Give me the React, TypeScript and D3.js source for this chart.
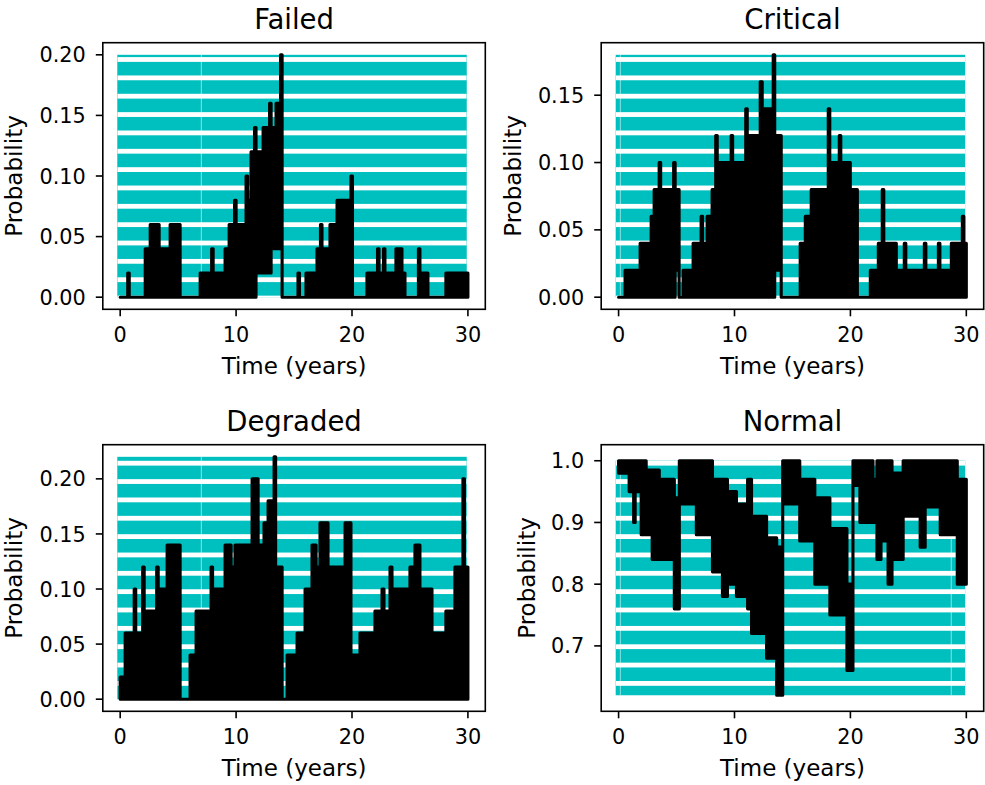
import React from 'react';
import * as d3 from 'd3';

const FONT = '"DejaVu Sans", "Liberation Sans", sans-serif';
const CYAN = '#00bfbf';

// shared x axis
const xLimits = [-1.5, 31.5];
const xTicks = [0, 10, 20, 30];
const bandSpan = [-0.25, 29.9];

// ---- Failed: step breakpoints (years) and envelope per segment ----
const failedT = [0, 0.65, 0.78, 2.16, 2.59, 3.36, 4.31, 5.17, 6.9, 7.89, 8.02, 9.05, 9.4, 9.87, 10.0, 10.86, 10.99, 11.29, 11.59, 11.72, 12.33, 12.89, 13.02, 13.45, 13.84, 13.97, 15.34, 15.47, 16.03, 16.98, 17.28, 17.41, 18.1, 18.71, 19.91, 20.04, 21.29, 22.2, 22.33, 22.72, 22.84, 23.79, 24.31, 24.57, 25.73, 25.86, 26.55, 28.1, 30.0];
const failedHi = [0, 0.02, 0, 0.04, 0.06, 0.04, 0.06, 0, 0.02, 0.04, 0.02, 0.04, 0.06, 0.08, 0.06, 0.1, 0.08, 0.12, 0.14, 0.12, 0.14, 0.16, 0.14, 0.16, 0.2, 0, 0.02, 0, 0.02, 0.04, 0.06, 0.04, 0.06, 0.08, 0.1, 0, 0.02, 0.04, 0.02, 0.04, 0.02, 0.04, 0.02, 0, 0.04, 0.02, 0, 0.02];
const failedLo = [0, 0, 0, 0, 0, 0, 0, 0, 0, 0, 0, 0, 0, 0, 0, 0, 0, 0, 0, 0.02, 0.02, 0.02, 0.04, 0.04, 0.04, 0, 0, 0, 0, 0, 0, 0, 0, 0, 0, 0, 0, 0, 0, 0, 0, 0, 0, 0, 0, 0, 0, 0];
const failedYlim = [-0.01, 0.21];
const failedYTicks = [0, 0.05, 0.1, 0.15, 0.2];
const failedBand = [0, 0.2];
const failedSeams = [7.0];

// ---- Critical ----
const criticalT = [0, 0.56, 1.86, 2.81, 3.07, 3.5, 3.63, 4.75, 4.88, 5.22, 5.57, 6.43, 7.12, 7.25, 7.64, 8.07, 8.38, 8.51, 9.71, 9.84, 10.97, 11.1, 12.22, 12.39, 13.34, 13.47, 14.03, 15.67, 16.11, 16.62, 18.09, 18.22, 19.04, 19.17, 19.99, 20.6, 21.72, 22.41, 22.75, 22.88, 23.96, 24.65, 24.78, 26.38, 26.51, 27.59, 27.72, 28.71, 29.66, 29.79, 30.0];
const criticalHi = [0, 0.02, 0.04, 0.06, 0.08, 0.1, 0.08, 0.1, 0.08, 0, 0.02, 0.04, 0.06, 0.04, 0.06, 0.08, 0.12, 0.1, 0.12, 0.1, 0.14, 0.12, 0.16, 0.14, 0.18, 0.12, 0, 0.04, 0.06, 0.08, 0.14, 0.1, 0.12, 0.1, 0.08, 0, 0.02, 0.04, 0.08, 0.04, 0.02, 0.04, 0.02, 0.04, 0.02, 0.04, 0.02, 0.04, 0.06, 0.04];
const criticalLo = [0, 0, 0, 0, 0, 0, 0, 0, 0.02, 0, 0, 0, 0, 0, 0, 0, 0, 0, 0, 0, 0, 0, 0, 0, 0, 0.02, 0, 0, 0, 0, 0, 0, 0, 0, 0, 0, 0, 0, 0, 0, 0, 0, 0, 0, 0, 0, 0, 0, 0, 0];
const criticalYlim = [-0.009, 0.189];
const criticalYTicks = [0, 0.05, 0.1, 0.15];
const criticalBand = [0, 0.18];
const criticalSeams = [0.15];

// ---- Degraded ----
const degradedT = [0, 0.43, 1.21, 1.34, 1.94, 2.07, 3.15, 3.28, 4.05, 5.17, 6.03, 6.55, 7.84, 7.97, 9.05, 9.57, 9.91, 11.38, 11.9, 12.41, 12.76, 13.28, 13.41, 13.97, 14.4, 15.26, 15.95, 16.55, 16.9, 17.24, 17.93, 19.4, 19.91, 20.69, 21.98, 22.59, 22.76, 23.28, 23.45, 25.0, 25.43, 25.86, 26.9, 28.1, 28.88, 29.57, 29.7, 30.0];
const degradedHi = [0.02, 0.06, 0.1, 0.06, 0.12, 0.08, 0.12, 0.1, 0.14, 0, 0.04, 0.08, 0.12, 0.1, 0.14, 0.12, 0.14, 0.2, 0.14, 0.16, 0.18, 0.22, 0.12, 0, 0.04, 0.06, 0.1, 0.14, 0.12, 0.16, 0.12, 0.16, 0.04, 0.06, 0.08, 0.1, 0.08, 0.12, 0.1, 0.12, 0.14, 0.1, 0.06, 0.08, 0.12, 0.2, 0.12];
const degradedLo = [0, 0, 0, 0, 0, 0, 0, 0, 0, 0, 0, 0, 0, 0, 0, 0, 0, 0, 0, 0, 0, 0, 0, 0, 0, 0, 0, 0, 0, 0, 0, 0, 0, 0, 0, 0, 0, 0, 0, 0, 0, 0, 0, 0, 0, 0, 0];
const degradedYlim = [-0.011, 0.231];
const degradedYTicks = [0, 0.05, 0.1, 0.15, 0.2];
const degradedBand = [0, 0.22];
const degradedSeams = [7.0];

// ---- Normal ----
const normalT = [0, 0.91, 1.3, 1.43, 1.95, 2.38, 2.9, 3.51, 4.81, 5.24, 6.71, 8.1, 8.96, 9.39, 10.17, 11.13, 11.47, 12.77, 13.64, 14.16, 15.63, 16.93, 18.23, 19.7, 20.22, 20.82, 21.95, 22.29, 22.64, 23.25, 23.59, 24.55, 26.02, 26.45, 27.75, 29.22, 30.0];
const normalHi = [1.0, 1.0, 1.0, 1.0, 1.0, 0.985, 0.985, 0.97, 0.94, 1.0, 1.0, 0.97, 0.97, 0.95, 0.93, 0.97, 0.91, 0.875, 0.86, 1.0, 0.97, 0.94, 0.89, 0.8, 1.0, 1.0, 0.97, 1.0, 1.0, 1.0, 0.98, 1.0, 1.0, 1.0, 1.0, 0.97];
const normalLo = [0.98, 0.95, 0.9, 0.95, 0.88, 0.88, 0.84, 0.84, 0.76, 0.93, 0.88, 0.82, 0.78, 0.8, 0.78, 0.76, 0.72, 0.68, 0.62, 0.93, 0.87, 0.8, 0.75, 0.66, 0.96, 0.9, 0.9, 0.84, 0.87, 0.8, 0.84, 0.91, 0.86, 0.925, 0.88, 0.8];
const normalYlim = [0.594, 1.026];
const normalYTicks = [0.7, 0.8, 0.9, 1.0];
const normalBand = [0.62, 1.0];
const normalSeams = [0.15, 28.7];

// figure layout
const COL_LEFT = [102.8, 601.2];
const ROW_TOP = [42.7, 444.7];
const AX_W = 382.5;
const AX_H = 266.6;
const TICK_FS = 20.8;
const LABEL_FS = 23;
const TITLE_FS = 27.5;
const STRIPE_PERIOD = 18.35;
const STRIPE_OFFSET = 59.5;
const STRIPE_W = 4.8;

type PanelSpec = {
  id: string;
  title: string;
  col: number;
  row: number;
  T: number[];
  hi: number[];
  lo: number[];
  ylim: number[];
  yticks: number[];
  fmt: string;
  band: number[];
  seams: number[];
  ylabelX: number;
};

const panels: PanelSpec[] = [
  { id: 'failed', title: 'Failed', col: 0, row: 0, T: failedT, hi: failedHi, lo: failedLo, ylim: failedYlim, yticks: failedYTicks, fmt: '.2f', band: failedBand, seams: failedSeams, ylabelX: 22 },
  { id: 'critical', title: 'Critical', col: 1, row: 0, T: criticalT, hi: criticalHi, lo: criticalLo, ylim: criticalYlim, yticks: criticalYTicks, fmt: '.2f', band: criticalBand, seams: criticalSeams, ylabelX: 521 },
  { id: 'degraded', title: 'Degraded', col: 0, row: 1, T: degradedT, hi: degradedHi, lo: degradedLo, ylim: degradedYlim, yticks: degradedYTicks, fmt: '.2f', band: degradedBand, seams: degradedSeams, ylabelX: 22 },
  { id: 'normal', title: 'Normal', col: 1, row: 1, T: normalT, hi: normalHi, lo: normalLo, ylim: normalYlim, yticks: normalYTicks, fmt: '.1f', band: normalBand, seams: normalSeams, ylabelX: 535 },
];

type Pt = { t: number; hi: number; lo: number };

function Panel({ p }: { p: PanelSpec }) {
  const left = COL_LEFT[p.col];
  const top = ROW_TOP[p.row];
  const x = d3.scaleLinear().domain(xLimits).range([left, left + AX_W]);
  const y = d3.scaleLinear().domain(p.ylim).range([top + AX_H, top]);

  const n = p.hi.length;
  const pts: Pt[] = p.T.map((t, i) => ({ t, hi: p.hi[Math.min(i, n - 1)], lo: p.lo[Math.min(i, n - 1)] }));
  const area = d3
    .area<Pt>()
    .x((d) => x(d.t))
    .y0((d) => y(d.lo))
    .y1((d) => y(d.hi))
    .curve(d3.curveStepAfter);

  const bx0 = x(bandSpan[0]);
  const bx1 = x(bandSpan[1]);
  const by0 = y(p.band[1]);
  const by1 = y(p.band[0]);
  const kStart = Math.floor((by0 - STRIPE_OFFSET) / STRIPE_PERIOD) - 1;
  const kEnd = Math.ceil((by1 - STRIPE_OFFSET) / STRIPE_PERIOD) + 1;
  const stripes = d3.range(kStart, kEnd + 1).map((k) => STRIPE_OFFSET + k * STRIPE_PERIOD);
  const fmt = d3.format(p.fmt);
  const clipId = `band-${p.id}`;

  return (
    <g>
      <defs>
        <clipPath id={clipId}>
          <rect x={bx0} y={by0} width={bx1 - bx0} height={by1 - by0} />
        </clipPath>
      </defs>
      <rect x={bx0} y={by0} width={bx1 - bx0} height={by1 - by0} fill={CYAN} />
      <g clipPath={`url(#${clipId})`}>
        {stripes.map((sy, i) => (
          <rect key={i} x={bx0} y={sy - STRIPE_W / 2} width={bx1 - bx0} height={STRIPE_W} fill="#ffffff" />
        ))}
        {p.seams.map((s, i) => (
          <line key={`s${i}`} x1={x(s)} x2={x(s)} y1={by0} y2={by1} stroke="#ffffff" strokeOpacity={0.55} strokeWidth={1} />
        ))}
      </g>
      <path d={area(pts) || ''} fill="#000" stroke="#000" strokeWidth={3.1} strokeLinejoin="round" strokeLinecap="round" />

      {/* spines */}
      <rect x={left} y={top} width={AX_W} height={AX_H} fill="none" stroke="#000" strokeWidth={1.6} />

      {/* x axis */}
      {xTicks.map((t) => (
        <g key={`x${t}`}>
          <line x1={x(t)} x2={x(t)} y1={top + AX_H} y2={top + AX_H + 7} stroke="#000" strokeWidth={1.6} />
          <text x={x(t)} y={top + AX_H + 33} textAnchor="middle" fontFamily={FONT} fontSize={TICK_FS} fill="#000">
            {t}
          </text>
        </g>
      ))}
      <text x={left + AX_W / 2} y={top + AX_H + 65} textAnchor="middle" fontFamily={FONT} fontSize={LABEL_FS} fill="#000">
        Time (years)
      </text>

      {/* y axis */}
      {p.yticks.map((v) => (
        <g key={`y${v}`}>
          <line x1={left - 7} x2={left} y1={y(v)} y2={y(v)} stroke="#000" strokeWidth={1.6} />
          <text x={left - 17} y={y(v) + 7.6} textAnchor="end" fontFamily={FONT} fontSize={TICK_FS} fill="#000">
            {fmt(v)}
          </text>
        </g>
      ))}
      <text
        transform={`translate(${p.ylabelX},${top + AX_H / 2}) rotate(-90)`}
        textAnchor="middle"
        fontFamily={FONT}
        fontSize={LABEL_FS}
        fill="#000"
      >
        Probability
      </text>

      <text x={left + AX_W / 2} y={top - 14} textAnchor="middle" fontFamily={FONT} fontSize={TITLE_FS} fill="#000">
        {p.title}
      </text>
    </g>
  );
}

export default function App() {
  return (
    <svg width={985} height={785} style={{ position: 'absolute', left: 0, top: 0, background: '#fff' }}>
      <rect x={0} y={0} width={985} height={785} fill="#fff" />
      {panels.map((p) => (
        <Panel key={p.id} p={p} />
      ))}
    </svg>
  );
}
